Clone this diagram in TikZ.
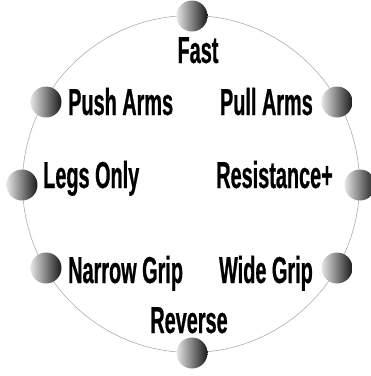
\documentclass[tikz,border=0pt]{standalone}
\usepackage{fontspec}
\newfontfamily\lblfont{Liberation Sans}[FakeStretch=0.53,BoldFeatures={FakeBold=0.6}]
\begin{document}
\begin{tikzpicture}[x=1pt,y=-1pt,
  ring/.style={draw=black!32,line width=0.6pt},
  ball/.style={circle,minimum size=31pt,inner sep=0pt,left color=black!10,right color=black!90,shading angle=90},
  lbl/.style={inner sep=0pt,font=\lblfont\fontsize{37.5}{42}\selectfont\bfseries,text=black}]
\useasboundingbox (0,0) rectangle (371,376);
\coordinate (c) at (191,184);
\draw[ring] (c) circle [radius=168.5pt];
\node[ball] (bF) at (192,16) {};
\node[ball] (bPu) at (46,102) {};
\node[ball] (bPl) at (337,102) {};
\node[ball] (bL) at (22,185) {};
\node[ball] (bR) at (360,185) {};
\node[ball] (bN) at (46,268) {};
\node[ball] (bW) at (337,268) {};
\node[ball] (bRv) at (192,353) {};
\node[lbl,anchor=base] (tF) at (198,63) {Fast};
\node[lbl,anchor=base west] (tPu) at (68,115) {Push Arms};
\node[lbl,anchor=base east] (tPl) at (313,115) {Pull Arms};
\node[lbl,anchor=base west] (tL) at (43,188) {Legs Only};
\node[lbl,anchor=base east] (tR) at (333,188) {Resistance+};
\node[lbl,anchor=base west] (tN) at (68,283) {Narrow Grip};
\node[lbl,anchor=base east] (tW) at (313,283) {Wide Grip};
\node[lbl,anchor=base] (tRv) at (189,333) {Reverse};
\end{tikzpicture}
\end{document}
